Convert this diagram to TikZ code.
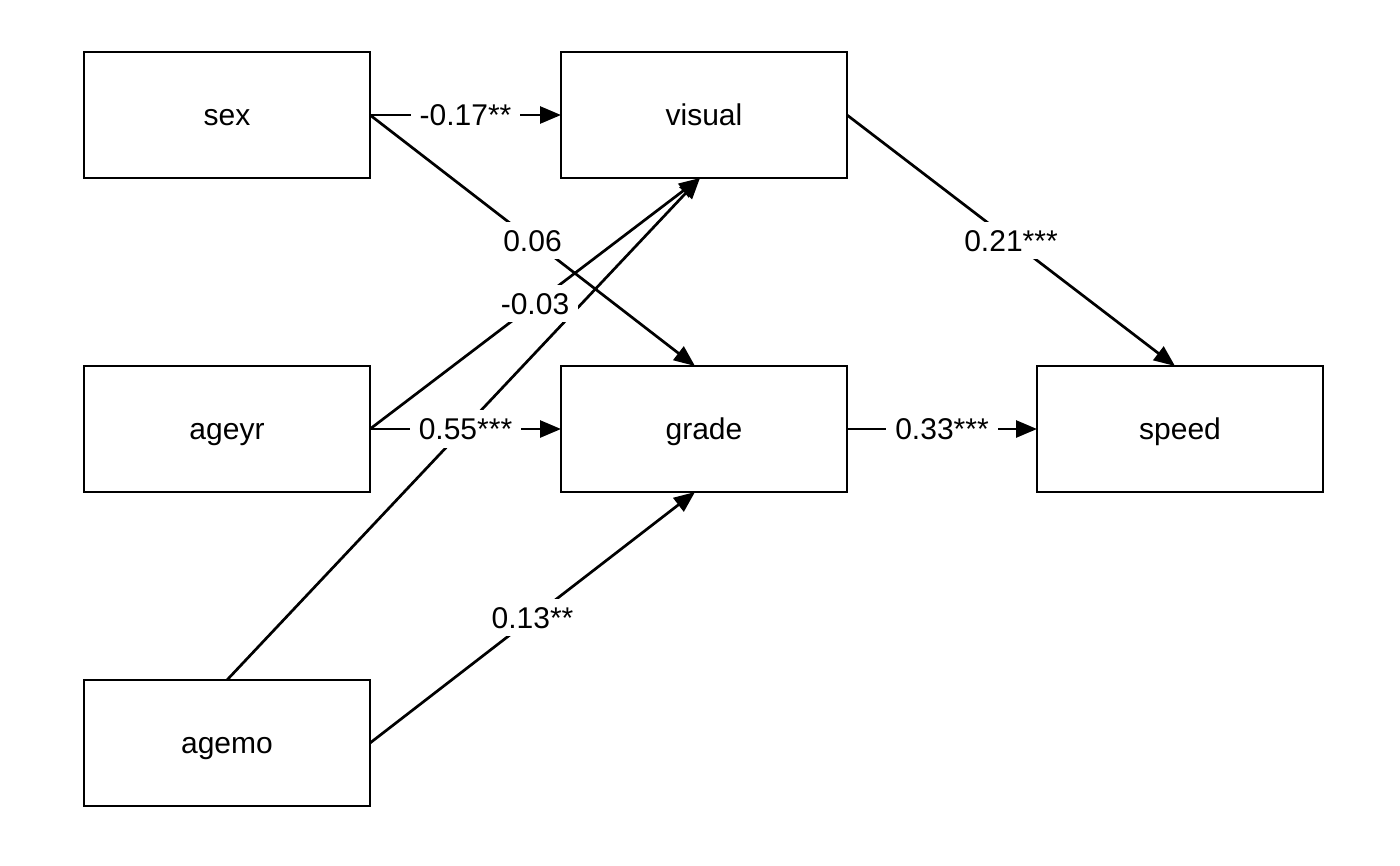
\documentclass[tikz,border=0pt]{standalone}
\usepackage{fontspec}
\setmainfont{Liberation Sans}
\usetikzlibrary{arrows.meta,calc}
\begin{document}
\begin{tikzpicture}[x=1pt,y=-1pt,
  var/.style={draw,line width=2.7pt,rectangle,minimum width=286pt,minimum height=126pt,inner sep=0pt,outer sep=0pt,text height=21.5pt,text depth=0pt,font=\fontsize{30}{36}\selectfont},
  path/.style={line width=2.7pt,-{Triangle[length=21pt,width=17pt]}},
  lbl/.style={fill=white,inner xsep=9pt,inner ysep=8pt,text height=21.5pt,text depth=0pt,font=\fontsize{30}{36}\selectfont}]
\useasboundingbox (0,0) rectangle (1400,865);
\node[var] (sex) at (227,115) {sex};
\node[var] (visual) at (704,115) {visual};
\node[var] (ageyr) at (227,429) {ageyr};
\node[var] (grade) at (704,429) {grade};
\node[var] (speed) at (1180,429) {speed};
\node[var] (agemo) at (227,743) {agemo};
\coordinate (vs) at ([xshift=-4pt]visual.south);
\coordinate (gn) at ([xshift=-9pt]grade.north);
\coordinate (gs) at ([xshift=-9pt]grade.south);
\coordinate (sn) at ([xshift=-5pt]speed.north);
\draw[path] (sex.east) -- (visual.west);
\draw[path] (sex.east) -- (gn);
\draw[path] (ageyr.east) -- (vs);
\draw[path] (agemo.north) -- (vs);
\draw[path] (ageyr.east) -- (grade.west);
\draw[path] (agemo.east) -- (gs);
\draw[path] (visual.east) -- (sn);
\draw[path] (grade.east) -- (speed.west);
\path (sex.east) -- (visual.west) node[lbl,midway] (l1) {-0.17**};
\path (sex.east) -- (gn) node[lbl,midway] (l2) {0.06};
\path (ageyr.east) -- (vs) node[lbl,midway] (l3) {-0.03};
\path (ageyr.east) -- (grade.west) node[lbl,midway] (l5) {0.55***};
\path (agemo.east) -- (gs) node[lbl,midway] (l6) {0.13**};
\path (visual.east) -- (sn) node[lbl,midway] (l7) {0.21***};
\path (grade.east) -- (speed.west) node[lbl,midway] (l8) {0.33***};
\end{tikzpicture}
\end{document}
